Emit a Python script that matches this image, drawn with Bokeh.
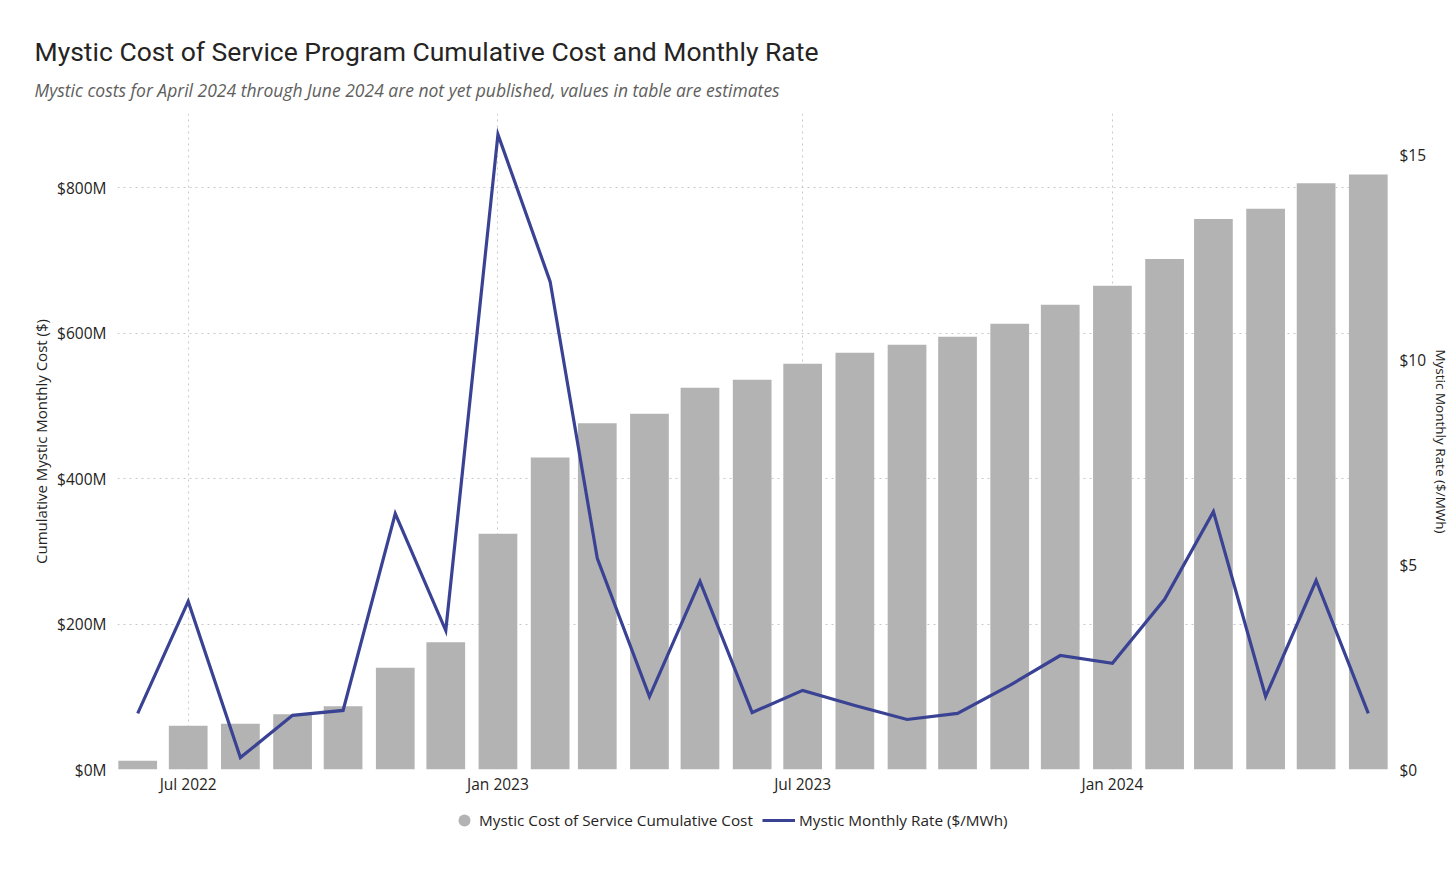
import pandas as pd
from bokeh.plotting import figure
from bokeh.layouts import column
from bokeh.models import (ColumnDataSource, Range1d, LinearAxis, FixedTicker, DatetimeTickFormatter,
                          NumeralTickFormatter, Legend, LegendItem, Title)
from bokeh.embed import file_html
from bokeh.resources import INLINE

months = ["2022-06", "2022-07", "2022-08", "2022-09", "2022-10", "2022-11", "2022-12",
          "2023-01", "2023-02", "2023-03", "2023-04", "2023-05", "2023-06", "2023-07",
          "2023-08", "2023-09", "2023-10", "2023-11", "2023-12", "2024-01", "2024-02",
          "2024-03", "2024-04", "2024-05", "2024-06"]
cumulative_cost_musd = [12, 60, 63, 76, 87, 140, 175, 324, 429, 476, 489, 525, 536, 558,
                        573, 584, 595, 613, 639, 665, 702, 757, 771, 806, 818]
monthly_rate = [1.37, 4.10, 0.29, 1.32, 1.44, 6.24, 3.39, 15.49, 11.90, 5.15, 1.78, 4.59,
                1.39, 1.93, 1.56, 1.22, 1.37, 2.05, 2.78, 2.59, 4.15, 6.29, 1.78, 4.61, 1.37]
x_tick_months = ["2022-07", "2023-01", "2023-07", "2024-01"]
left_ticks_musd = [0, 200, 400, 600, 800]
right_ticks = [0, 5, 10, 15]

BAR = "#B3B3B3"
LINE = "#3A4294"
TXT = "#252423"
GRID = "#C8C8C8"
FONT = "Open Sans"

dates = pd.to_datetime(months)
src = ColumnDataSource(dict(date=dates, cost=[v * 1e6 for v in cumulative_cost_musd], rate=monthly_rate))

x_start = pd.Timestamp("2022-05-20")
x_end = pd.Timestamp("2024-06-13")

p = figure(frame_width=1271, frame_height=656, x_axis_type="datetime", output_backend="svg",
           toolbar_location=None, x_range=Range1d(x_start, x_end), y_range=Range1d(0, 902e6),
           min_border_left=117, min_border_right=40, min_border_top=113, min_border_bottom=35,
           title=None)
p.outline_line_color = None
p.background_fill_color = "white"
p.border_fill_color = "white"
p.extra_y_ranges = {"rate": Range1d(0, 16)}

bar_w = 23 * 24 * 3600 * 1000
bars = p.vbar(x="date", top="cost", width=bar_w, source=src, fill_color=BAR, line_color=None)
line = p.line(x="date", y="rate", source=src, y_range_name="rate", line_color=LINE, line_width=3.2,
              line_join="miter")

def plain_axis(ax, standoff):
    ax.axis_line_color = None
    ax.major_tick_line_color = None
    ax.minor_tick_line_color = None
    ax.major_tick_out = 0
    ax.major_tick_in = 0
    ax.minor_tick_out = 0
    ax.minor_tick_in = 0
    ax.major_label_text_font = FONT
    ax.major_label_text_font_size = "15.5px"
    ax.major_label_text_color = TXT
    ax.major_label_standoff = standoff

# x axis
xa = p.xaxis[0]
xa.ticker = FixedTicker(ticks=[pd.Timestamp(m).value / 1e6 for m in x_tick_months])
fmt = "%b %Y"
xa.formatter = DatetimeTickFormatter(milliseconds=fmt, seconds=fmt, minsec=fmt, minutes=fmt,
                                     hourmin=fmt, hours=fmt, days=fmt, months=fmt, years=fmt)
plain_axis(xa, 3)

# left axis
ya = p.yaxis[0]
ya.ticker = FixedTicker(ticks=[v * 1e6 for v in left_ticks_musd])
ya.major_label_overrides = {v * 1e6: f"${v}M" for v in left_ticks_musd}
plain_axis(ya, 11)
ya.axis_label = "Cumulative Mystic Monthly Cost ($)"
ya.axis_label_text_font = FONT
ya.axis_label_text_font_size = "15px"
ya.axis_label_text_font_style = "normal"
ya.axis_label_text_color = TXT
ya.axis_label_standoff = 3

# right axis
ra = LinearAxis(y_range_name="rate", ticker=FixedTicker(ticks=right_ticks),
                formatter=NumeralTickFormatter(format="$0"))
plain_axis(ra, 11)
ra.axis_label = "Mystic Monthly Rate ($/MWh)"
ra.axis_label_text_font = FONT
ra.axis_label_text_font_size = "13.5px"
ra.axis_label_text_font_style = "normal"
ra.axis_label_text_color = TXT
ra.axis_label_standoff = 3
p.add_layout(ra, "right")

# grids
p.xgrid.grid_line_color = GRID
p.xgrid.grid_line_dash = "2 4"
p.xgrid.grid_line_width = 1
p.ygrid.grid_line_color = GRID
p.ygrid.grid_line_dash = "2 4"
p.ygrid.grid_line_width = 1

# titles (subtitle first = nearest the frame)
sub = Title(text="Mystic costs for April 2024 through June 2024 are not yet published, values in table are estimates",
            text_font=FONT, text_font_size="17.5px", text_font_style="italic", text_color="#605E5C",
            align="left", offset=-83, standoff=24)
p.add_layout(sub, "above")
main = Title(text="Mystic Cost of Service Program Cumulative Cost and Monthly Rate",
             text_font="Roboto", text_font_size="26.5px", text_font_style="normal", text_color=TXT,
             align="left", offset=-83, standoff=-6)
p.add_layout(main, "above")

# legend strip below the chart
p2 = figure(width=1440, height=60, output_backend="svg", toolbar_location=None,
            x_range=Range1d(0, 1), y_range=Range1d(0, 1), x_axis_location=None, y_axis_location=None,
            min_border=0, title=None)
p2.outline_line_color = None
p2.xgrid.visible = False
p2.ygrid.visible = False
# same series in the legend strip (outside its ranges, so only the legend glyphs show)
dot2 = p2.scatter(x="date", y="cost", source=src, marker="circle", size=0, fill_color=BAR, line_color=None)
line2 = p2.line(x="date", y="rate", source=src, line_color=LINE, line_width=3.2)

def style_legend(lg):
    lg.label_text_font = FONT
    lg.label_text_font_size = "15.3px"
    lg.label_text_color = TXT
    lg.border_line_color = None
    lg.background_fill_alpha = 0
    lg.padding = 0
    lg.margin = 0
    lg.label_height = 20

leg1 = Legend(items=[LegendItem(label="Mystic Cost of Service Cumulative Cost", renderers=[dot2])],
              location=(332, 29), glyph_width=30, glyph_height=30, label_standoff=0)
style_legend(leg1)
leg2 = Legend(items=[LegendItem(label="Mystic Monthly Rate ($/MWh)", renderers=[line2])],
              location=(645, 29), glyph_width=33, glyph_height=30, label_standoff=4)
style_legend(leg2)
p2.add_layout(leg1, "center")
p2.add_layout(leg2, "center")

layout = column(p, p2, spacing=0)
open("out.html", "w").write(file_html(layout, INLINE))
